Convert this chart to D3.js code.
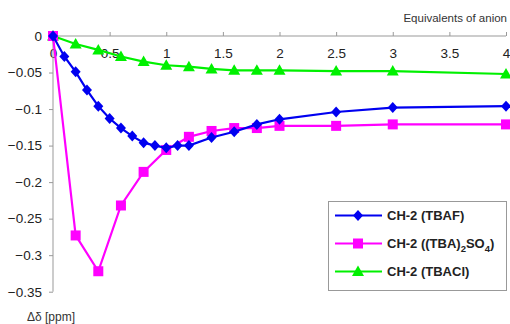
<!DOCTYPE html>
<html><head><meta charset="utf-8">
<script src="https://cdn.jsdelivr.net/npm/d3@7/dist/d3.min.js"></script>
<style>body{margin:0;background:#fff}svg{display:block;font-family:Arial,"Liberation Sans",sans-serif}</style>
</head><body><svg id="c" width="510" height="324"></svg>
<script>
const xTicks=[0,0.5,1,1.5,2,2.5,3,3.5,4];
const yTicks=[0,-0.05,-0.1,-0.15,-0.2,-0.25,-0.3,-0.35];
const tbafX=[0,0.1,0.2,0.3,0.4,0.5,0.6,0.7,0.8,0.9,1.0,1.1,1.2,1.4,1.6,1.8,2.0,2.5,3,4];
const tbafY=[0,-0.028,-0.049,-0.074,-0.096,-0.113,-0.126,-0.137,-0.146,-0.150,-0.153,-0.150,-0.150,-0.139,-0.131,-0.121,-0.114,-0.104,-0.098,-0.096];
const so4X=[0,0.2,0.4,0.6,0.8,1.0,1.2,1.4,1.6,1.8,2.0,2.5,3,4];
const so4Y=[0,-0.273,-0.322,-0.232,-0.186,-0.156,-0.138,-0.130,-0.126,-0.126,-0.123,-0.123,-0.121,-0.121];
const clX=[0,0.2,0.4,0.6,0.8,1.0,1.2,1.4,1.6,1.8,2.0,2.5,3,4];
const clY=[0,-0.011,-0.019,-0.028,-0.035,-0.040,-0.042,-0.045,-0.047,-0.047,-0.047,-0.048,-0.048,-0.052];
const seriesNames=["CH-2 (TBAF)","CH-2 ((TBA)2SO4)","CH-2 (TBACl)"];

const svg=d3.select("#c");
const x=d3.scaleLinear().domain([0,4]).range([53,506]);
const y=d3.scaleLinear().domain([-0.35,0]).range([291.7,36]);
const axisCol="#999";

const gx=svg.append("g").attr("transform",`translate(0,${y(0)})`)
  .call(d3.axisTop(x).tickValues(xTicks).tickSize(4).tickFormat(d3.format("")));
gx.selectAll("path,line").attr("stroke",axisCol);
gx.select(".domain").attr("d",`M${x(0)},0H${x(4)}`);
gx.selectAll("text").attr("y",17).attr("dy","0.35em").attr("font-size",13.5).attr("fill","#222").attr("font-family","Arial,Liberation Sans,sans-serif");

const gy=svg.append("g").attr("transform",`translate(${x(0)},0)`)
  .call(d3.axisLeft(y).tickValues(yTicks).tickSize(4).tickFormat(d=>d===0?"0":d3.format("")(d)));
gy.selectAll("path,line").attr("stroke",axisCol);
gy.select(".domain").attr("d",`M0,${y(-0.35)}V${y(0)}`);
gy.selectAll("text").attr("x",-11).attr("font-size",13.5).attr("fill","#222").attr("font-family","Arial,Liberation Sans,sans-serif");

svg.append("text").attr("x",507).attr("y",22).attr("text-anchor","end").attr("font-size",11.5).attr("fill","#333").text("Equivalents of anion");
svg.append("text").attr("x",27).attr("y",321).attr("font-size",12).attr("fill","#333").text("Δδ [ppm]");

const line=d3.line().x(d=>x(d[0])).y(d=>y(d[1]));
const series=[
 {xs:tbafX,ys:tbafY,col:"#0000f0",sym:"diamond"},
 {xs:so4X,ys:so4Y,col:"#ff00ff",sym:"square"},
 {xs:clX,ys:clY,col:"#00f000",sym:"triangle"}
];
function marker(g,sym,col){
  if(sym==="diamond") g.append("path").attr("d","M0,-5.5L5,0L0,5.5L-5,0Z").attr("fill",col);
  else if(sym==="square") g.append("rect").attr("x",-5).attr("y",-5).attr("width",10).attr("height",10).attr("fill",col);
  else g.append("path").attr("d","M0,-6L6,4.5L-6,4.5Z").attr("fill",col);
}
[2,1,0].forEach(i=>{
  const s=series[i];
  const pts=s.xs.map((v,j)=>[v,s.ys[j]]);
  svg.append("path").attr("d",line(pts)).attr("fill","none").attr("stroke",s.col).attr("stroke-width",2.2);
  pts.forEach(p=>{const g=svg.append("g").attr("transform",`translate(${x(p[0])},${y(p[1])})`);marker(g,s.sym,s.col);});
});

const lg=svg.append("g");
lg.append("rect").attr("x",328.5).attr("y",201.5).attr("width",178).attr("height",89).attr("fill","#fff").attr("stroke",axisCol).attr("stroke-width",1);
const ly=[215.5,243.5,271.5];
series.forEach((s,i)=>{
  lg.append("line").attr("x1",335).attr("x2",382).attr("y1",ly[i]).attr("y2",ly[i]).attr("stroke",s.col).attr("stroke-width",2.2);
  const g=lg.append("g").attr("transform",`translate(358,${ly[i]})`);marker(g,s.sym,s.col);
  const t=lg.append("text").attr("x",387).attr("y",ly[i]).attr("dy","0.36em").attr("font-size",13).attr("font-weight","bold").attr("fill","#222");
  if(i===1){
    t.append("tspan").text("CH-2 ((TBA)");
    t.append("tspan").attr("font-size",9.5).attr("dy",4).text("2");
    t.append("tspan").attr("dy",-4).text("SO");
    t.append("tspan").attr("font-size",9.5).attr("dy",4).text("4");
    t.append("tspan").attr("dy",-4).text(")");
  } else t.text(seriesNames[i]);
});
</script></body></html>
